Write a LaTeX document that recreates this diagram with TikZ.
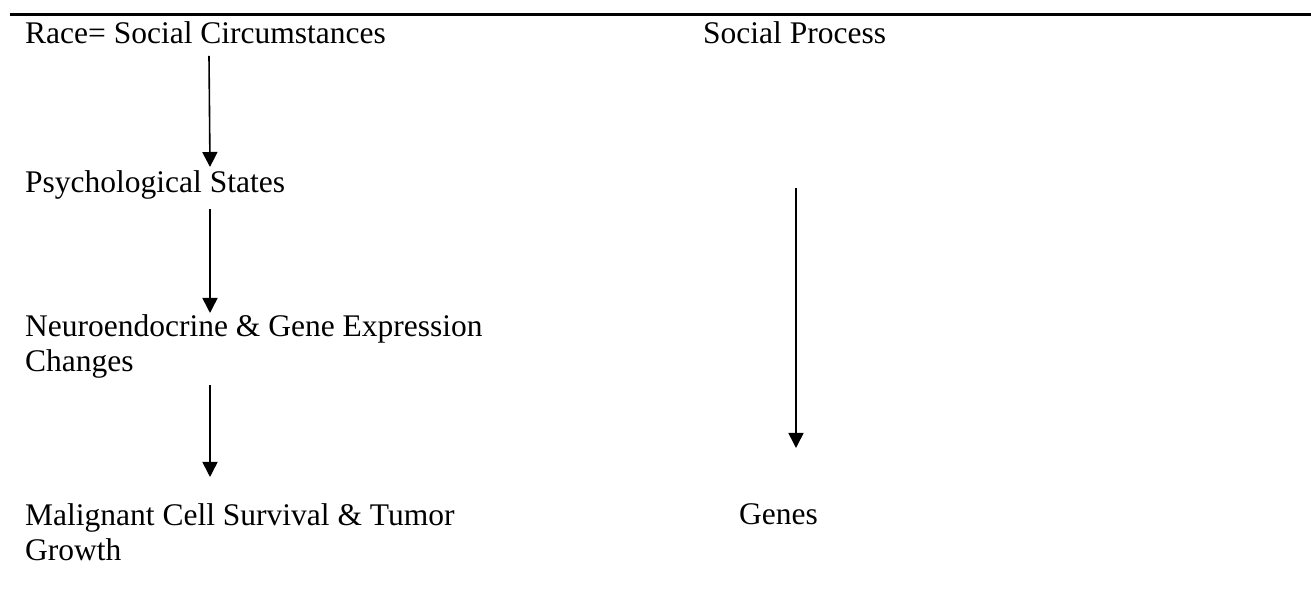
\documentclass[tikz,border=0pt]{standalone}
\usepackage{fontspec}
\setmainfont{Liberation Serif}
\usetikzlibrary{arrows.meta}
\tikzset{
  lbl/.style={anchor=base west, inner sep=0pt, align=left, font=\fontsize{31.5}{35}\selectfont},
  arr/.style={line width=1.6pt, -{Triangle[width=15pt,length=15pt]}},
  rule/.style={line width=2.6pt}
}
\begin{document}
\begin{tikzpicture}[x=1pt,y=1pt]
\useasboundingbox (0,0) rectangle (1311,594);
\coordinate (rl) at (10,579.5);
\coordinate (rr) at (1311,579.5);
\draw[rule] (rl) -- (rr);
\node[lbl] (race) at (25,550) {Race= Social Circumstances};
\node[lbl] (psy) at (25,401) {Psychological States};
\node[lbl] (neuro) at (25,222) {Neuroendocrine \& Gene Expression\\Changes};
\node[lbl] (mal) at (25,34) {Malignant Cell Survival \& Tumor\\Growth};
\node[lbl] (soc) at (703,550) {Social Process};
\node[lbl] (genes) at (739,69) {Genes};
\draw[arr] ([xshift=184pt,yshift=-12pt]race.base west) -- ([xshift=185pt,yshift=26pt]psy.base west);
\draw[arr] ([xshift=185pt,yshift=-16pt]psy.base west) -- ([xshift=185pt,yshift=59pt]neuro.base west);
\draw[arr] ([xshift=185pt,yshift=-13pt]neuro.base west) -- ([xshift=185pt,yshift=83pt]mal.base west);
\draw[arr] ([xshift=93pt,yshift=-144pt]soc.base west) -- ([xshift=57pt,yshift=77pt]genes.base west);
\end{tikzpicture}
\end{document}
